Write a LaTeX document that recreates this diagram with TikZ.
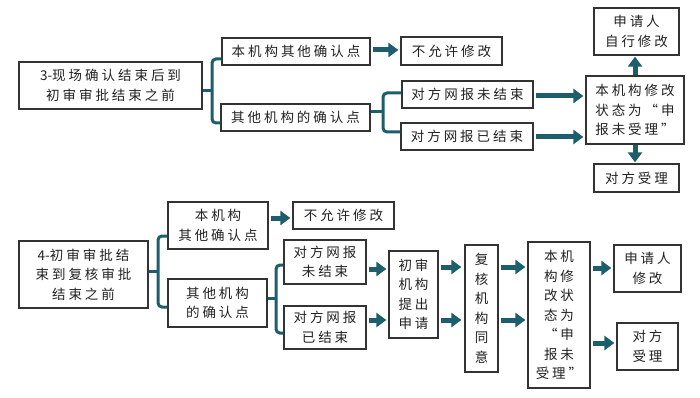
\documentclass[tikz,border=0pt]{standalone}
\usepackage{fontspec}
\setmainfont{Noto Sans CJK SC}[LetterSpace=22]
\newfontfamily\plainnum{Noto Sans CJK SC}
\usetikzlibrary{arrows.meta,calc}
\definecolor{teal1}{HTML}{1D5E6C}
\definecolor{edge1}{HTML}{333333}
\definecolor{txt1}{HTML}{222222}
\tikzset{
  box/.style={draw=edge1, line width=1.3pt, fill=white, inner sep=0pt, align=center,
    text=txt1, font=\fontsize{13.5}{19.5}\selectfont},
  fat/.style={draw=teal1, line width=5pt, -{Triangle[width=14pt,length=10pt]}},
  brk/.style={draw=teal1, line width=3pt, rounded corners=4pt},
}
\begin{document}
\begin{tikzpicture}[x=1pt,y=-1pt]
\useasboundingbox (0,0) rectangle (700,398);
% ---------- top section ----------
\node[box, minimum width=183pt, minimum height=47pt] (A) at (110.5,85.5) {{\plainnum 3-}现场确认结束后到\\初审审批结束之前};
\node[box, minimum width=148pt, minimum height=27pt] (B1) at (296,51.5) {本机构其他确认点};
\node[box, minimum width=149pt, minimum height=27pt] (B2) at (295.5,117.5) {其他机构的确认点};
\node[box, minimum width=101pt, minimum height=28pt] (N1) at (451.5,51) {不允许修改};
\node[box, minimum width=131pt, minimum height=27pt] (C1) at (467.5,94.5) {对方网报未结束};
\node[box, minimum width=132pt, minimum height=27pt] (C2) at (467,136.5) {对方网报已结束};
\node[box, minimum width=98pt, minimum height=68pt] (S) at (635,110) {本机构修改\\状态为“申\\报未受理”};
\node[box, minimum width=85pt, minimum height=47pt] (U) at (636.5,31.5) {申请人\\自行修改};
\node[box, minimum width=85pt, minimum height=28pt] (D) at (636.5,178) {对方受理};

\coordinate (a1) at (212,91);
\draw[brk] (A.east |- a1) -- (a1);
\draw[brk] (B1.west |- 0,59) -| (a1) |- (B2.west |- 0,123);
\coordinate (b1) at (383,112);
\draw[brk] (B2.east |- b1) -- (b1);
\draw[brk] (C1.west |- 0,93) -| (b1) |- (C2.west |- 0,132);

\draw[fat, shorten <=2pt, shorten >=2pt] (B1.east |- 0,50) -- (N1.west |- 0,50);
\draw[fat, shorten <=2pt, shorten >=2pt] (C1.east |- 0,96) -- (S.west |- 0,96);
\draw[fat, shorten <=2pt, shorten >=2pt] (C2.east |- 0,137) -- (S.west |- 0,137);
\draw[fat, shorten <=0pt, shorten >=1pt] (S.north) -- (S.north |- U.south);
\draw[fat, shorten <=0pt, shorten >=1pt] (S.south) -- (S.south |- D.north);

% ---------- bottom section ----------
\node[box, minimum width=129pt, minimum height=67pt] (A2) at (83.5,274.5) {{\plainnum 4-}初审审批结\\束到复核审批\\结束之前};
\node[box, minimum width=100pt, minimum height=47pt] (E1) at (218,225.5) {本机构\\其他确认点};
\node[box, minimum width=99pt, minimum height=48pt] (E2) at (217.5,303) {其他机构\\的确认点};
\node[box, minimum width=101pt, minimum height=27pt] (N2) at (343.5,215.5) {不允许修改};
\node[box, minimum width=82pt, minimum height=44pt] (F1) at (325,262) {对方网报\\未结束};
\node[box, minimum width=82pt, minimum height=43pt] (F2) at (325,327.5) {对方网报\\已结束};
\node[box, minimum width=49pt, minimum height=87pt] (G) at (413.5,294.5) {初审\\机构\\提出\\申请};
\node[box, minimum width=33pt, minimum height=127pt] (H) at (481.5,308.5) {复\\核\\机\\构\\同\\意};
\node[box, minimum width=62pt, minimum height=146pt] (S2) at (559,315) {本机\\构修\\改状\\态为\\“申\\报未\\受理”};
\node[box, minimum width=67pt, minimum height=47pt] (U2) at (647.5,268.5) {申请人\\修改};
\node[box, minimum width=61pt, minimum height=47pt] (D2) at (647.5,346.5) {对方\\受理};

\coordinate (a2) at (158,271);
\draw[brk] (A2.east |- a2) -- (a2);
\draw[brk] (E1.west |- 0,236) -| (a2) |- (E2.west |- 0,307);
\coordinate (b2) at (276,298);
\draw[brk] (E2.east |- b2) -- (b2);
\draw[brk] (F1.west |- 0,265) -| (b2) |- (F2.west |- 0,333);

\draw[fat, shorten <=2pt, shorten >=2pt] (E1.east |- 0,218) -- (N2.west |- 0,218);
\draw[fat, shorten <=2pt, shorten >=2pt] (F1.east |- 0,269) -- (G.west |- 0,269);
\draw[fat, shorten <=2pt, shorten >=2pt] (F2.east |- 0,320) -- (G.west |- 0,320);
\draw[fat, shorten <=2pt, shorten >=3pt] (G.east |- 0,267) -- (H.west |- 0,267);
\draw[fat, shorten <=2pt, shorten >=3pt] (G.east |- 0,320) -- (H.west |- 0,320);
\draw[fat, shorten <=2pt, shorten >=2pt] (H.east |- 0,267) -- (S2.west |- 0,267);
\draw[fat, shorten <=2pt, shorten >=2pt] (H.east |- 0,320) -- (S2.west |- 0,320);
\draw[fat, shorten <=2pt, shorten >=2pt] (S2.east |- 0,268) -- (U2.west |- 0,268);
\draw[fat, shorten <=2pt, shorten >=2pt] (S2.east |- 0,343) -- (D2.west |- 0,343);
\end{tikzpicture}
\end{document}
